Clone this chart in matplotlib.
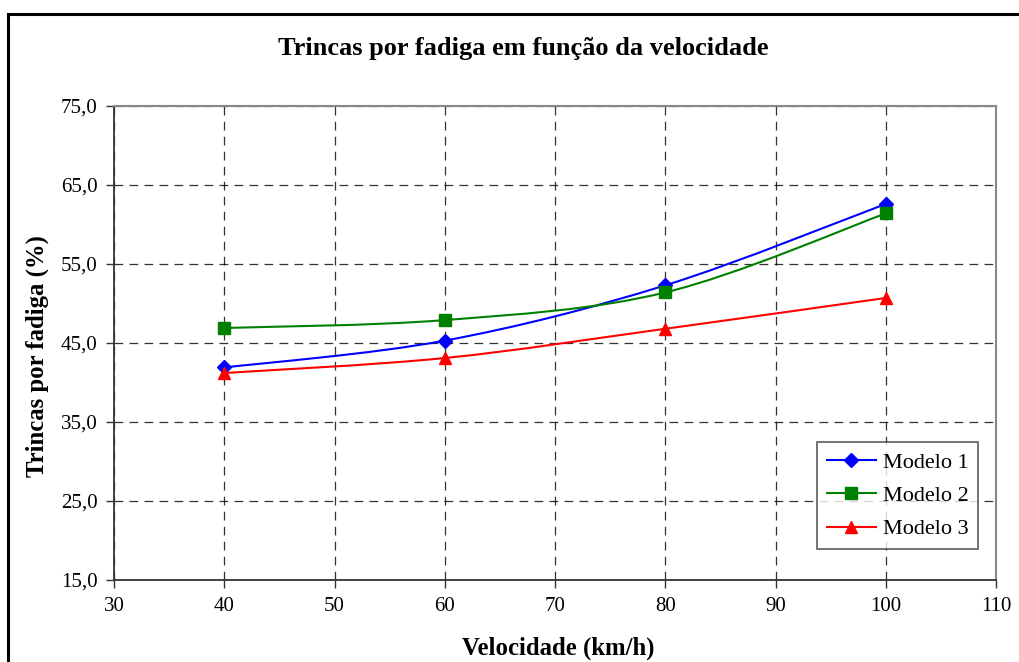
import matplotlib
matplotlib.use("Agg")
import matplotlib.pyplot as plt
from matplotlib.path import Path
from matplotlib.patches import PathPatch, Rectangle
from matplotlib.lines import Line2D
from matplotlib.ticker import FuncFormatter

velocidade = [40, 60, 80, 100]
modelo1 = [41.9, 45.3, 52.3, 62.6]
modelo2 = [46.9, 47.9, 51.4, 61.4]
modelo3 = [41.2, 43.1, 46.8, 50.7]
series_names = ["Modelo 1", "Modelo 2", "Modelo 3"]
title = "Trincas por fadiga em função da velocidade"
xlabel = "Velocidade (km/h)"
ylabel = "Trincas por fadiga (%)"

plt.rcParams['font.family'] = ['Liberation Serif', 'DejaVu Serif']

fig = plt.figure(figsize=(10.2, 6.62), dpi=100)
ax = fig.add_axes([114/1020, 1-580/662, (996-114)/1020, (580-106)/662])

# outer chart frame
fig.patches.append(Rectangle((8/1020, -0.05), 1.2, 1-14/662+0.05, transform=fig.transFigure,
                             fill=False, edgecolor='black', linewidth=2.2, zorder=0))


def smooth_path(xs, ys):
    pts = list(zip(xs, ys))
    n = len(pts)
    verts = [pts[0]]
    codes = [Path.MOVETO]
    for i in range(n - 1):
        p0 = pts[i - 1] if i > 0 else pts[i]
        p1 = pts[i]
        p2 = pts[i + 1]
        p3 = pts[i + 2] if i + 2 < n else pts[i + 1]
        c1 = (p1[0] + (p2[0] - p0[0]) / 6, p1[1] + (p2[1] - p0[1]) / 6)
        c2 = (p2[0] - (p3[0] - p1[0]) / 6, p2[1] - (p3[1] - p1[1]) / 6)
        verts += [c1, c2, p2]
        codes += [Path.CURVE4] * 3
    return Path(verts, codes)


styles = [
    dict(color='#0000FF', marker='D', ms=7),
    dict(color='#008000', marker='s', ms=8),
    dict(color='#FF0000', marker='^', ms=9),
]
handles = []
for name, ys, st in zip(series_names, [modelo1, modelo2, modelo3], styles):
    patch = PathPatch(smooth_path(velocidade, ys), facecolor='none', edgecolor=st['color'],
                      linewidth=1.5, transform=ax.transData, zorder=3)
    ax.add_patch(patch)
    ax.plot(velocidade, ys, linestyle='none', marker=st['marker'], markersize=st['ms'],
            color=st['color'], zorder=4)
    handles.append(Line2D([], [], color=st['color'], linewidth=1.5, marker=st['marker'],
                          markersize=st['ms'], label=name))

ax.set_xlim(30, 110)
ax.set_ylim(15, 75)
ax.set_xticks(range(30, 111, 10))
ax.set_yticks(range(15, 76, 10))
ax.yaxis.set_major_formatter(FuncFormatter(lambda v, p: f"{v:.1f}".replace('.', ',')))
ax.grid(True, color='black', linestyle=(0, (7, 5)), linewidth=0.9, alpha=0.8)
ax.set_axisbelow(True)
ax.tick_params(direction='out', length=6, width=1, colors='#333333', labelcolor='black',
               labelsize=15, pad=6)
for s in ['left', 'bottom']:
    ax.spines[s].set_color('#333333')
    ax.spines[s].set_linewidth(1.3)
for s in ['top', 'right']:
    ax.spines[s].set_color('#888888')
    ax.spines[s].set_linewidth(1.5)

fig.text(523/1020, 1-48/662, title, ha='center', va='center', fontsize=19, fontweight='bold')
fig.text(558/1020, 1-648/662, xlabel, ha='center', va='center', fontsize=17.8, fontweight='bold')
fig.text(37/1020, 1-356/662, ylabel, ha='center', va='center', fontsize=17.8, fontweight='bold',
         rotation=90)

leg = ax.legend(handles=handles, loc='upper left', bbox_to_anchor=(817/1020, 1-442/662),
                bbox_transform=fig.transFigure, frameon=True, fancybox=False, fontsize=16,
                handlelength=2.2, borderpad=0.45, labelspacing=0.58, handletextpad=0.3,
                borderaxespad=0)
leg.get_frame().set_edgecolor('#333333')
leg.get_frame().set_linewidth(1.2)

fig.savefig("out.png", dpi=100)
